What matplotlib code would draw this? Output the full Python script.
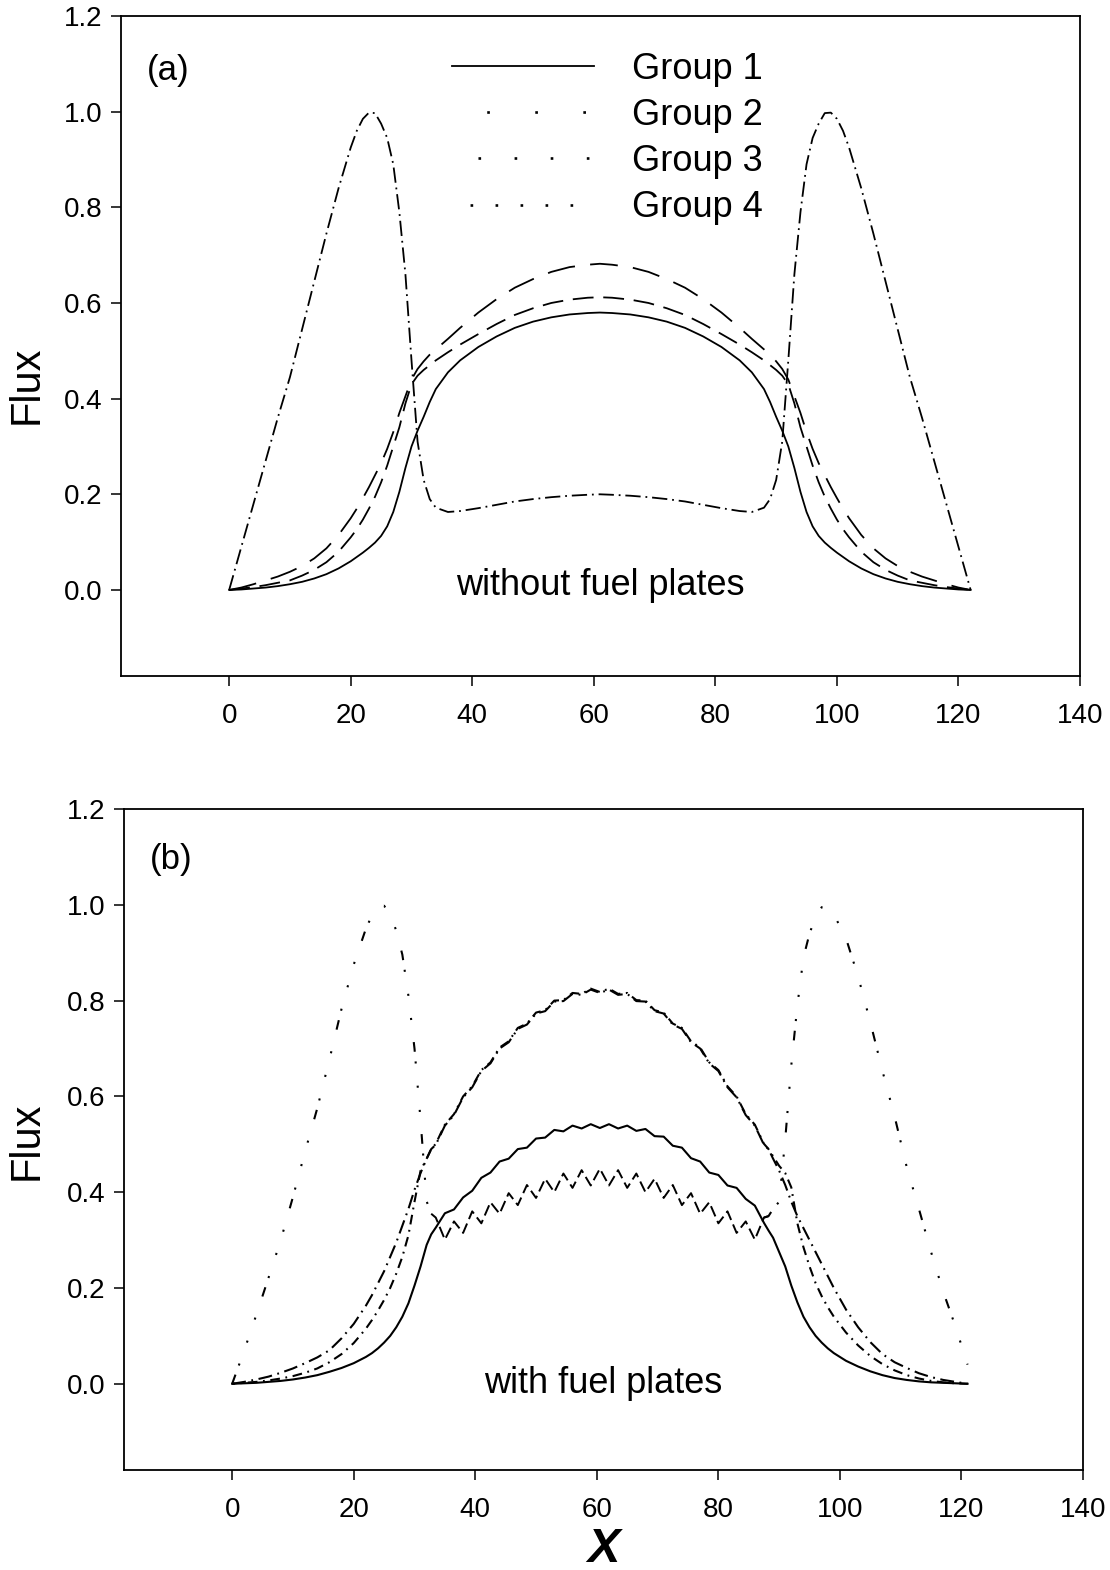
import matplotlib
matplotlib.use("Agg")
import matplotlib.pyplot as plt
from matplotlib.lines import Line2D
from matplotlib.ticker import FormatStrFormatter
import pandas as pd

plt.rcParams['font.family'] = ['Liberation Sans', 'DejaVu Sans']
plt.rcParams['lines.scale_dashes'] = False

# ---- panel (a): without fuel plates ----
x_a = [0, 2, 4, 6, 8, 10, 12, 14, 16, 18, 20, 21, 22, 23, 24, 25, 26, 27, 28, 29,
       30, 31, 32, 33, 34, 36, 38, 41, 44, 47, 50, 53, 56, 59, 61,
       63, 66, 69, 72, 75, 78, 81, 84, 86, 88, 89, 90, 91, 92, 93, 94, 95, 96, 97,
       98, 99, 100, 101, 102, 104, 106, 108, 110, 112, 114, 116, 118, 120, 122]

g1_a = [0, 0.001, 0.003, 0.005, 0.008, 0.012, 0.017, 0.024, 0.033, 0.045, 0.06, 0.069,
        0.078, 0.088, 0.099, 0.113, 0.133, 0.163, 0.205, 0.255, 0.3, 0.333, 0.362, 0.393,
        0.42, 0.455, 0.48, 0.508, 0.53, 0.548, 0.561, 0.57, 0.576, 0.579, 0.58,
        0.579, 0.576, 0.57, 0.561, 0.548, 0.53, 0.508, 0.48, 0.455, 0.42, 0.393, 0.362,
        0.333, 0.3, 0.255, 0.205, 0.163, 0.133, 0.113, 0.099, 0.088, 0.078, 0.069, 0.06,
        0.045, 0.033, 0.024, 0.017, 0.012, 0.008, 0.005, 0.003, 0.001, 0]

g2_a = [0, 0.005, 0.012, 0.02, 0.028, 0.038, 0.05, 0.066, 0.087, 0.115, 0.15, 0.17,
        0.192, 0.215, 0.24, 0.265, 0.295, 0.33, 0.37, 0.405, 0.44, 0.462, 0.478, 0.492,
        0.503, 0.525, 0.548, 0.58, 0.608, 0.632, 0.65, 0.665, 0.675, 0.68, 0.682,
        0.68, 0.675, 0.665, 0.65, 0.632, 0.608, 0.58, 0.548, 0.525, 0.503, 0.492, 0.478,
        0.462, 0.44, 0.405, 0.37, 0.33, 0.295, 0.265, 0.24, 0.215, 0.192, 0.17, 0.15,
        0.115, 0.087, 0.066, 0.05, 0.038, 0.028, 0.02, 0.012, 0.005, 0]

g3_a = [0, 0.003, 0.006, 0.01, 0.015, 0.02, 0.03, 0.042, 0.058, 0.08, 0.11, 0.127,
        0.147, 0.17, 0.195, 0.225, 0.26, 0.3, 0.34, 0.39, 0.43, 0.448, 0.46, 0.47,
        0.48, 0.497, 0.513, 0.535, 0.556, 0.575, 0.589, 0.6, 0.607, 0.611, 0.612,
        0.611, 0.607, 0.6, 0.589, 0.575, 0.556, 0.535, 0.513, 0.497, 0.48, 0.47, 0.46,
        0.448, 0.43, 0.39, 0.34, 0.3, 0.26, 0.225, 0.195, 0.17, 0.147, 0.127, 0.11,
        0.08, 0.058, 0.042, 0.03, 0.02, 0.015, 0.01, 0.006, 0.003, 0]

g4_a = [0, 0.09, 0.18, 0.27, 0.36, 0.445, 0.545, 0.645, 0.745, 0.84, 0.925, 0.96,
        0.985, 0.998, 0.997, 0.975, 0.945, 0.89, 0.79, 0.66, 0.48, 0.31, 0.23, 0.19,
        0.172, 0.163, 0.165, 0.171, 0.178, 0.185, 0.19, 0.194, 0.197, 0.199, 0.2,
        0.199, 0.197, 0.194, 0.19, 0.185, 0.178, 0.171, 0.165, 0.163, 0.172, 0.19, 0.23,
        0.31, 0.48, 0.66, 0.79, 0.89, 0.945, 0.975, 0.997, 0.998, 0.985, 0.96, 0.925,
        0.84, 0.745, 0.645, 0.545, 0.445, 0.36, 0.27, 0.18, 0.09, 0]

# ---- panel (b): with fuel plates ----
x_b = [0, 2, 4, 6, 8, 10, 12, 14, 16, 18, 20, 22, 23, 24, 25, 26, 27, 28, 29, 30, 31,
       32, 32.75,
       33.5, 35, 36.5, 38, 39.5, 41, 42.5, 44, 45.5, 47, 48.5, 50, 51.5, 53, 54.5, 56,
       57.5, 59, 60.5, 62, 63.5, 65, 66.5, 68, 69.5, 71, 72.5, 74, 75.5, 77, 78.5, 80,
       81.5, 83, 84.5, 86, 87.5,
       88.25, 89, 90, 91, 92, 93, 94, 95, 96, 97, 98, 99, 101, 103, 105, 107, 109, 111,
       113, 115, 117, 119, 121]

g1_b = [0, 0.001, 0.002, 0.004, 0.006, 0.009, 0.013, 0.018, 0.025, 0.033, 0.043, 0.056,
        0.064, 0.074, 0.086, 0.1, 0.118, 0.14, 0.168, 0.205, 0.245, 0.29, 0.312,
        0.326, 0.356, 0.364, 0.389, 0.403, 0.43, 0.441, 0.464, 0.47, 0.49, 0.493, 0.512,
        0.514, 0.53, 0.527, 0.539, 0.533, 0.542, 0.534, 0.542, 0.533, 0.539, 0.528, 0.532,
        0.517, 0.516, 0.497, 0.493, 0.471, 0.464, 0.441, 0.436, 0.414, 0.409, 0.386, 0.372,
        0.336,
        0.32, 0.305, 0.275, 0.245, 0.205, 0.17, 0.14, 0.118, 0.1, 0.086, 0.074, 0.064,
        0.048, 0.036, 0.026, 0.018, 0.012, 0.008, 0.005, 0.003, 0.002, 0.001, 0]

g2_b = [0, 0.004, 0.009, 0.015, 0.023, 0.032, 0.043, 0.055, 0.07, 0.095, 0.125, 0.163,
        0.185, 0.21, 0.235, 0.265, 0.295, 0.33, 0.365, 0.405, 0.44, 0.47, 0.49,
        0.499, 0.539, 0.561, 0.598, 0.619, 0.653, 0.669, 0.7, 0.713, 0.741, 0.75, 0.773,
        0.778, 0.798, 0.799, 0.814, 0.812, 0.823, 0.816, 0.823, 0.812, 0.814, 0.799, 0.798,
        0.778, 0.773, 0.75, 0.741, 0.713, 0.7, 0.669, 0.653, 0.619, 0.598, 0.561, 0.539,
        0.499,
        0.49, 0.47, 0.445, 0.415, 0.38, 0.35, 0.325, 0.3, 0.275, 0.25, 0.225, 0.2,
        0.155, 0.118, 0.087, 0.062, 0.045, 0.033, 0.022, 0.014, 0.008, 0.004, 0]

g3_b = [0, 0.002, 0.004, 0.007, 0.011, 0.016, 0.023, 0.032, 0.045, 0.062, 0.085, 0.115,
        0.133, 0.153, 0.175, 0.2, 0.23, 0.265, 0.31, 0.38, 0.445, 0.47, 0.49,
        0.501, 0.541, 0.563, 0.6, 0.621, 0.655, 0.671, 0.702, 0.715, 0.743, 0.752, 0.775,
        0.78, 0.8, 0.801, 0.816, 0.814, 0.825, 0.818, 0.825, 0.814, 0.816, 0.801, 0.8,
        0.78, 0.775, 0.752, 0.743, 0.715, 0.702, 0.671, 0.655, 0.621, 0.6, 0.563, 0.541,
        0.501,
        0.49, 0.475, 0.455, 0.44, 0.41, 0.335, 0.285, 0.245, 0.21, 0.183, 0.16, 0.14,
        0.107, 0.08, 0.058, 0.041, 0.028, 0.018, 0.011, 0.006, 0.003, 0.001, 0]

g4_b = [0, 0.07, 0.145, 0.222, 0.3, 0.39, 0.485, 0.575, 0.677, 0.783, 0.875, 0.95,
        0.978, 0.995, 0.998, 0.98, 0.946, 0.896, 0.81, 0.7, 0.55, 0.381, 0.355,
        0.347, 0.301, 0.339, 0.315, 0.36, 0.335, 0.379, 0.355, 0.398, 0.373, 0.415, 0.388,
        0.428, 0.4, 0.439, 0.409, 0.446, 0.414, 0.449, 0.414, 0.446, 0.409, 0.439, 0.4,
        0.428, 0.388, 0.415, 0.373, 0.398, 0.355, 0.379, 0.335, 0.36, 0.315, 0.339, 0.301,
        0.347,
        0.35, 0.365, 0.38, 0.51, 0.665, 0.79, 0.89, 0.94, 0.975, 0.995, 0.995, 0.98,
        0.93, 0.85, 0.755, 0.653, 0.558, 0.452, 0.365, 0.275, 0.192, 0.12, 0.04]

group_labels = ['Group 1', 'Group 2', 'Group 3', 'Group 4']
x_ticks = [0, 20, 40, 60, 80, 100, 120, 140]
y_ticks = [0.0, 0.2, 0.4, 0.6, 0.8, 1.0, 1.2]

df_a = pd.DataFrame({'x': x_a, 'g1': g1_a, 'g2': g2_a, 'g3': g3_a, 'g4': g4_a})
df_b = pd.DataFrame({'x': x_b, 'g1': g1_b, 'g2': g2_b, 'g3': g3_b, 'g4': g4_b})

fig = plt.figure(figsize=(11.1, 15.7), dpi=100)
ax_a = fig.add_axes([0.109, 0.5694, 0.864, 0.4204])
ax_b = fig.add_axes([0.1117, 0.0637, 0.864, 0.4210])


def style_axes(ax):
    ax.set_xlim(-17.8, 140)
    ax.set_ylim(-0.18, 1.2)
    ax.set_xticks(x_ticks)
    ax.set_yticks(y_ticks)
    ax.yaxis.set_major_formatter(FormatStrFormatter('%.1f'))
    ax.tick_params(direction='out', length=7.5, width=1.1, labelsize=20,
                   top=False, right=False)
    ax.tick_params(axis='x', pad=12)
    ax.tick_params(axis='y', pad=6)
    for sp in ax.spines.values():
        sp.set_linewidth(1.3)
    ax.set_ylabel('Flux', fontsize=30, va='center')


# panel a curves
ax_a.plot(df_a.x, df_a.g1, color='k', lw=1.3, ls='-')
ax_a.plot(df_a.x, df_a.g2, color='k', lw=1.3, ls=(0, (20, 11)))
ax_a.plot(df_a.x, df_a.g3, color='k', lw=1.3, ls=(0, (15, 7)))
ax_a.plot(df_a.x, df_a.g4, color='k', lw=1.3, ls=(0, (11, 3.5, 1.3, 3.5)))
style_axes(ax_a)
ax_a.yaxis.set_label_coords(-0.098, 0.441)

# legend drawn as in the original (dotted handles)
handles = [
    Line2D([], [], color='k', lw=1.3, ls='-'),
    Line2D([], [], color='k', lw=1.9, ls=(9.6, (1.9, 32.7))),
    Line2D([], [], color='k', lw=1.9, ls=(7.3, (1.9, 24.1))),
    Line2D([], [], color='k', lw=1.9, ls=(5.0, (1.9, 16.1))),
]
ax_a.legend(handles, group_labels, loc='upper left', bbox_to_anchor=(0.345, 0.946),
            frameon=False, fontsize=26, handlelength=3.93, handletextpad=1.05,
            labelspacing=0.31, borderpad=0, borderaxespad=0)

ax_a.text(0.027, 0.917, '(a)', transform=ax_a.transAxes, fontsize=25,
          ha='left', va='center')
ax_a.text(61, 0.01, 'without fuel plates', fontsize=26, ha='center', va='center')

# panel b curves
ax_b.plot(df_b.x, df_b.g1, color='k', lw=1.5, ls='-')
ax_b.plot(df_b.x, df_b.g2, color='k', lw=1.5, ls=(0, (10, 4, 1.3, 4)))
ax_b.plot(df_b.x, df_b.g3, color='k', lw=1.5, ls=(5, (7, 4, 1.3, 4)))
left = df_b[df_b.x <= 33.5]
core = df_b[(df_b.x >= 32.75) & (df_b.x <= 88.25)]
right = df_b[df_b.x >= 87.5]
g4_outer = (0, (7, 7, 1.5, 16, 1.5, 16, 1.5, 16))
ax_b.plot(left.x, left.g4, color='k', lw=1.5, ls=g4_outer)
ax_b.plot(core.x, core.g4, color='k', lw=1.4, ls=(0, (8, 3.5)))
ax_b.plot(right.x, right.g4, color='k', lw=1.5, ls=g4_outer)
style_axes(ax_b)
ax_b.yaxis.set_label_coords(-0.101, 0.498)
ax_b.set_xlabel('X', fontsize=35, fontweight='bold', fontstyle='italic', va='center')
ax_b.xaxis.set_label_coords(0.5, -0.12)

ax_b.text(0.027, 0.923, '(b)', transform=ax_b.transAxes, fontsize=25,
          ha='left', va='center')
ax_b.text(61, 0.0, 'with fuel plates', fontsize=26, ha='center', va='center')

fig.savefig('out.png', dpi=100)
